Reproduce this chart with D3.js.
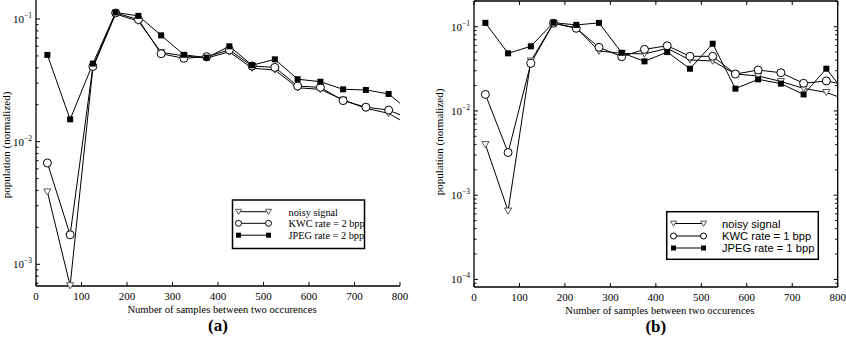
<!DOCTYPE html>
<head>
<meta charset='utf-8'>
<style>
  body { margin: 0; background: #fff; }
  svg text { font-family: 'Liberation Serif', 'DejaVu Serif', serif; fill: #000; }
  .sans { font-family: 'Liberation Sans', Arial, sans-serif; }
</style>
</head>
<body>
<div id='vis'></div>
<script src='https://d3js.org/d3.v7.min.js'></script>
<script>
  // bin centres (last one sits past 800 and gets clipped)
  const samples = [25, 75, 125, 175, 225, 275, 325, 375, 425, 475, 525, 575, 625, 675, 725, 775, 825]

  // panel (a), 2 bpp
  const noisyA = [0.0039, 0.00067, 0.040, 0.110, 0.096, 0.0535, 0.050, 0.048, 0.054, 0.0397, 0.0384, 0.0275, 0.0267, 0.0219, 0.0187, 0.0170, 0.0133]
  const kwcA   = [0.0067, 0.00174, 0.041, 0.112, 0.099, 0.0521, 0.0478, 0.0493, 0.0559, 0.0414, 0.0403, 0.0284, 0.0277, 0.0216, 0.0191, 0.0181, 0.0151]
  const jpegA  = [0.051, 0.0152, 0.0433, 0.113, 0.106, 0.0736, 0.0511, 0.0484, 0.0599, 0.042, 0.0469, 0.0323, 0.0308, 0.0267, 0.0264, 0.0245, 0.0173]

  // panel (b), 1 bpp
  const noisyB = [0.0040, 0.00065, 0.0392, 0.110, 0.097, 0.0514, 0.0483, 0.0475, 0.0553, 0.0403, 0.0392, 0.0274, 0.026, 0.0224, 0.0185, 0.0166, 0.0132]
  const kwcB   = [0.0157, 0.00321, 0.0367, 0.110, 0.0957, 0.0569, 0.0441, 0.0538, 0.0594, 0.0445, 0.0445, 0.0274, 0.0306, 0.0284, 0.0213, 0.0227, 0.020]
  const jpegB  = [0.111, 0.0483, 0.0585, 0.1116, 0.105, 0.111, 0.049, 0.0388, 0.050, 0.0317, 0.0628, 0.0184, 0.0237, 0.0211, 0.0157, 0.0317, 0.0143]

  const xTicks = [0, 100, 200, 300, 400, 500, 600, 700, 800]
  const labelsA = ['noisy signal', 'KWC rate = 2 bpp', 'JPEG rate = 2 bpp']
  const labelsB = ['noisy signal', 'KWC rate = 1 bpp', 'JPEG rate = 1 bpp']

  const svg = d3.select('#vis').append('svg')
    .attr('width', 846).attr('height', 338)

  const triPath = s => `M${-s},${-s*0.8}L${s},${-s*0.8}L0,${s*0.9}Z`

  function drawMarker(g, kind, x, y, big) {
    if (kind === 'tri') {
      g.append('path').attr('d', triPath(big ? 3.6 : 3))
        .attr('transform', `translate(${x},${y})`)
        .attr('fill', '#fff').attr('stroke', '#555').attr('stroke-width', 1)
    } else if (kind === 'circ') {
      g.append('circle').attr('cx', x).attr('cy', y).attr('r', big ? 4 : 3)
        .attr('fill', '#fff').attr('stroke', '#000').attr('stroke-width', 1)
    } else {
      const s = big ? 6 : 5
      g.append('rect').attr('x', x - s/2).attr('y', y - s/2).attr('width', s).attr('height', s)
        .attr('fill', '#000')
    }
  }

  function panel(opt) {
    const g = svg.append('g')
    const x = d3.scaleLinear().domain([0, 800]).range([opt.x0, opt.x1])
    const y = d3.scaleLog().domain(opt.yDomain).range([opt.yBottom, opt.yTop])

    const clipId = 'clip' + opt.name
    svg.append('clipPath').attr('id', clipId).append('rect')
      .attr('x', opt.x0).attr('y', opt.yTop).attr('width', opt.x1 - opt.x0).attr('height', opt.yBottom - opt.yTop)

    // axes lines
    g.append('line').attr('x1', opt.x0).attr('x2', opt.x0).attr('y1', opt.yTop).attr('y2', opt.yBottom)
      .attr('stroke', '#000').attr('stroke-width', 1.3)
    g.append('line').attr('x1', opt.x0).attr('x2', opt.x1).attr('y1', opt.yBottom).attr('y2', opt.yBottom)
      .attr('stroke', '#000').attr('stroke-width', 1.3)
    if (opt.box) {
      g.append('line').attr('x1', opt.x1).attr('x2', opt.x1).attr('y1', opt.yTop).attr('y2', opt.yBottom)
        .attr('stroke', '#000').attr('stroke-width', 1.3)
      g.append('line').attr('x1', opt.x0).attr('x2', opt.x1).attr('y1', opt.yTop).attr('y2', opt.yTop)
        .attr('stroke', '#000').attr('stroke-width', 1.3)
    }

    // x ticks (inward)
    xTicks.forEach(t => {
      g.append('line').attr('x1', x(t)).attr('x2', x(t)).attr('y1', opt.yBottom).attr('y2', opt.yBottom - 4)
        .attr('stroke', '#000')
      if (opt.box) g.append('line').attr('x1', x(t)).attr('x2', x(t)).attr('y1', opt.yTop).attr('y2', opt.yTop + 4)
        .attr('stroke', '#000')
      g.append('text').attr('x', x(t)).attr('y', opt.yBottom + 14).attr('text-anchor', 'middle')
        .attr('font-size', 11).text(t)
    })

    // y ticks: majors + minors
    const [lo, hi] = opt.yDomain
    for (let e = Math.floor(Math.log10(lo)); e <= Math.ceil(Math.log10(hi)); e++) {
      for (let m = 1; m < 10; m++) {
        const v = m * Math.pow(10, e)
        if (v < lo || v > hi) continue
        const len = m === 1 ? 4 : 2.5
        g.append('line').attr('x1', opt.x0).attr('x2', opt.x0 + len).attr('y1', y(v)).attr('y2', y(v))
          .attr('stroke', '#000')
        if (opt.box) g.append('line').attr('x1', opt.x1).attr('x2', opt.x1 - len).attr('y1', y(v)).attr('y2', y(v))
          .attr('stroke', '#000')
        if (m === 1) {
          const t = g.append('text').attr('x', opt.x0 - 4).attr('y', y(v) + 4).attr('text-anchor', 'end')
            .attr('font-size', 11)
          t.append('tspan').text('10')
          t.append('tspan').attr('dy', -5).attr('font-size', 7.5).text('\u2212' + (-e))
        }
      }
    }

    // series
    const series = [
      { vals: opt.noisy, kind: 'tri' },
      { vals: opt.kwc, kind: 'circ' },
      { vals: opt.jpeg, kind: 'sq' }
    ]
    const line = d3.line().x((d, i) => x(samples[i])).y(d => y(d))
    const plot = g.append('g').attr('clip-path', `url(#${clipId})`)
    series.forEach(s => {
      plot.append('path').datum(s.vals).attr('d', line)
        .attr('fill', 'none').attr('stroke', '#000').attr('stroke-width', 1)
    })
    series.forEach(s => {
      s.vals.forEach((v, i) => {
        if (samples[i] <= 800) drawMarker(g, s.kind, x(samples[i]), y(v), true)
      })
    })

    // legend
    const L = opt.legend
    g.append('rect').attr('x', L.x).attr('y', L.y).attr('width', L.w).attr('height', L.h)
      .attr('fill', '#fff').attr('stroke', '#000').attr('stroke-width', 1.5)
    series.forEach((s, i) => {
      const ly = L.rowY[i]
      g.append('line').attr('x1', L.lx0).attr('x2', L.lx1).attr('y1', ly).attr('y2', ly)
        .attr('stroke', '#000')
      drawMarker(g, s.kind, L.lx0, ly, false)
      drawMarker(g, s.kind, L.lx1, ly, false)
      g.append('text').attr('x', L.tx).attr('y', ly + 4).attr('font-size', L.fs)
        .attr('class', L.sans ? 'sans' : null).text(opt.labels[i])
    })

    // axis titles
    const cx = (opt.x0 + opt.x1) / 2
    g.append('text').attr('x', cx + 4).attr('y', opt.yBottom + 27).attr('text-anchor', 'middle')
      .attr('font-size', 10.6).text('Number of samples between two occurences')
    g.append('text').attr('x', cx).attr('y', opt.yBottom + 45).attr('text-anchor', 'middle')
      .attr('font-size', 17).attr('font-weight', 'bold').text(opt.tag)
    g.append('text').attr('transform', `translate(${opt.ylabX},${opt.ylabY}) rotate(-90)`)
      .attr('text-anchor', 'middle').attr('font-size', 11).text('population (normalized)')
  }

  panel({
    name: 'a', x0: 36, x1: 400, yTop: 0, yBottom: 286,
    yDomain: [Math.pow(10, -3.177), Math.pow(10, -0.845)],
    noisy: noisyA, kwc: kwcA, jpeg: jpegA, labels: labelsA, box: false, tag: '(a)',
    ylabX: 10, ylabY: 145,
    legend: { x: 232.5, y: 200, w: 132, h: 48.5, lx0: 238.5, lx1: 268.5, tx: 288.5, rowY: [211.7, 223.3, 235.2], fs: 10.3, sans: false }
  })

  panel({
    name: 'b', x0: 474, x1: 837.7, yTop: 1, yBottom: 287,
    yDomain: [Math.pow(10, -4.09), Math.pow(10, -0.695)],
    noisy: noisyB, kwc: kwcB, jpeg: jpegB, labels: labelsB, box: true, tag: '(b)',
    ylabX: 443, ylabY: 142,
    legend: { x: 666.7, y: 211.7, w: 151.6, h: 47.6, lx0: 673.5, lx1: 703.5, tx: 722, rowY: [223.5, 236, 248], fs: 11.2, sans: true }
  })
</script>
</body>
